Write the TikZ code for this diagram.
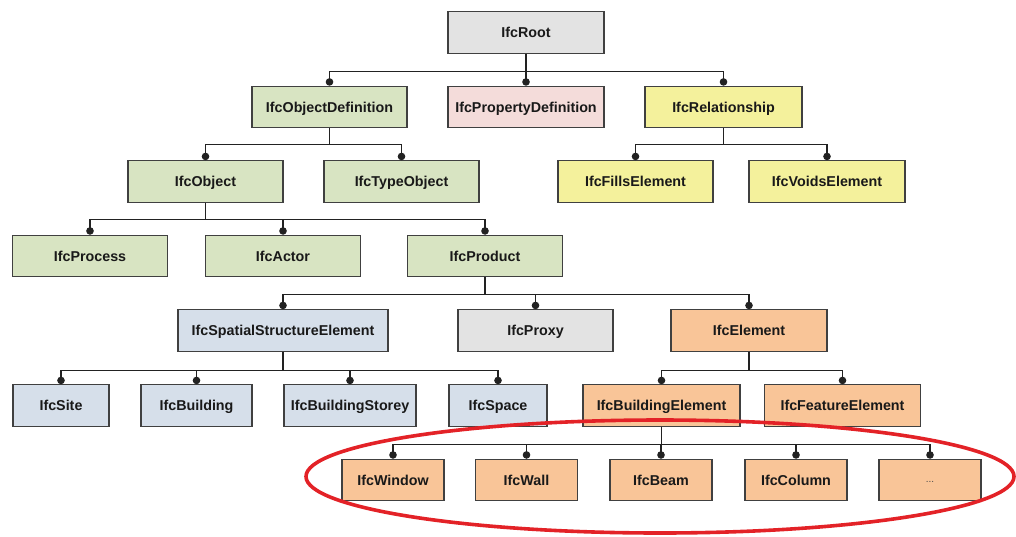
\documentclass[tikz,border=0pt]{standalone}
\usepackage{fontspec}
\setmainfont{Liberation Sans}
\usetikzlibrary{arrows.meta}
\definecolor{cgray}{HTML}{E3E3E3}
\definecolor{cgreen}{HTML}{D8E4C2}
\definecolor{cpink}{HTML}{F4DCDA}
\definecolor{cyellow}{HTML}{F4F19C}
\definecolor{cblue}{HTML}{D6DFEA}
\definecolor{corange}{HTML}{F9C598}
\definecolor{cborder}{HTML}{404040}
\definecolor{cline}{HTML}{222222}
\definecolor{cred}{HTML}{E32227}
\tikzset{
  box/.style={draw=cborder, line width=1.1pt, minimum height=41.5pt, inner sep=0pt,
    text height=13pt, text depth=3pt,
    text=black!90, font=\fontsize{14.3}{16}\selectfont\bfseries},
  gbox/.style={box, fill=cgray},
  grbox/.style={box, fill=cgreen},
  pbox/.style={box, fill=cpink},
  ybox/.style={box, fill=cyellow},
  bbox/.style={box, fill=cblue},
  obox/.style={box, fill=corange},
  conn/.style={draw=cline, line width=1.1pt, -{Circle[length=7.5pt,width=7.5pt]}},
}
\begin{document}
\begin{tikzpicture}[x=1pt,y=-1pt]
\useasboundingbox (0,0) rectangle (1016,536);
% row 1
\node[gbox, minimum width=156pt] (root) at (526,32.5) {IfcRoot};
% row 2
\node[grbox, minimum width=155pt] (objdef) at (329.5,107) {IfcObjectDefinition};
\node[pbox, minimum width=156pt] (propdef) at (526,107) {IfcPropertyDefinition};
\node[ybox, minimum width=157pt] (rel) at (723.5,107) {IfcRelationship};
% row 3
\node[grbox, minimum width=155pt] (object) at (205.5,181.5) {IfcObject};
\node[grbox, minimum width=155pt] (typeobj) at (401.5,181.5) {IfcTypeObject};
\node[ybox, minimum width=155pt] (fills) at (635.5,181.5) {IfcFillsElement};
\node[ybox, minimum width=156pt] (voids) at (827,181.5) {IfcVoidsElement};
% row 4
\node[grbox, minimum width=155pt] (process) at (90,256) {IfcProcess};
\node[grbox, minimum width=155pt] (actor) at (283,256) {IfcActor};
\node[grbox, minimum width=155pt] (product) at (485,256) {IfcProduct};
% row 5
\node[bbox, minimum width=210pt] (spatial) at (283,330.5) {IfcSpatialStructureElement};
\node[gbox, minimum width=155pt] (proxy) at (535.5,330.5) {IfcProxy};
\node[obox, minimum width=156pt] (element) at (749,330.5) {IfcElement};
% row 6
\node[bbox, minimum width=96pt] (site) at (61,405.5) {IfcSite};
\node[bbox, minimum width=111pt] (building) at (196.5,405.5) {IfcBuilding};
\node[bbox, minimum width=132pt] (storey) at (350,405.5) {IfcBuildingStorey};
\node[bbox, minimum width=98pt] (space) at (498,405.5) {IfcSpace};
\node[obox, minimum width=157pt] (buildel) at (661.5,405.5) {IfcBuildingElement};
\node[obox, minimum width=156pt] (feature) at (842.5,405.5) {IfcFeatureElement};
% row 7
\node[obox, minimum width=102pt] (window) at (393,480) {IfcWindow};
\node[obox, minimum width=102pt] (wall) at (526.5,480) {IfcWall};
\node[obox, minimum width=102pt] (beam) at (661,480) {IfcBeam};
\node[obox, minimum width=102pt] (column) at (796,480) {IfcColumn};
\node[obox, minimum width=102pt, text height=5pt, text depth=1pt, font=\fontsize{10}{12}\selectfont, text=black!70] (more) at (930,480) {...};
% connectors
\foreach \c in {objdef,propdef,rel} \draw[conn] (root.south) -- ++(0,18) -| (\c.north);
\foreach \c in {object,typeobj} \draw[conn] (objdef.south) -- ++(0,16) -| (\c.north);
\foreach \c in {fills,voids} \draw[conn] (rel.south) -- ++(0,16) -| (\c.north);
\foreach \c in {process,actor,product} \draw[conn] (object.south) -- ++(0,17) -| (\c.north);
\foreach \c in {spatial,proxy,element} \draw[conn] (product.south) -- ++(0,17.5) -| (\c.north);
\foreach \c in {site,building,storey,space} \draw[conn] (spatial.south) -- ++(0,18.5) -| (\c.north);
\foreach \c in {buildel,feature} \draw[conn] (element.south) -- ++(0,18.5) -| (\c.north);
\foreach \c in {window,wall,beam,column,more} \draw[conn] (buildel.south) -- ++(0,17.5) -| (\c.north);
% highlight ellipse
\draw[cred, line width=3.6pt] (660,476.5) ellipse [x radius=354, y radius=56.5];
\end{tikzpicture}
\end{document}
